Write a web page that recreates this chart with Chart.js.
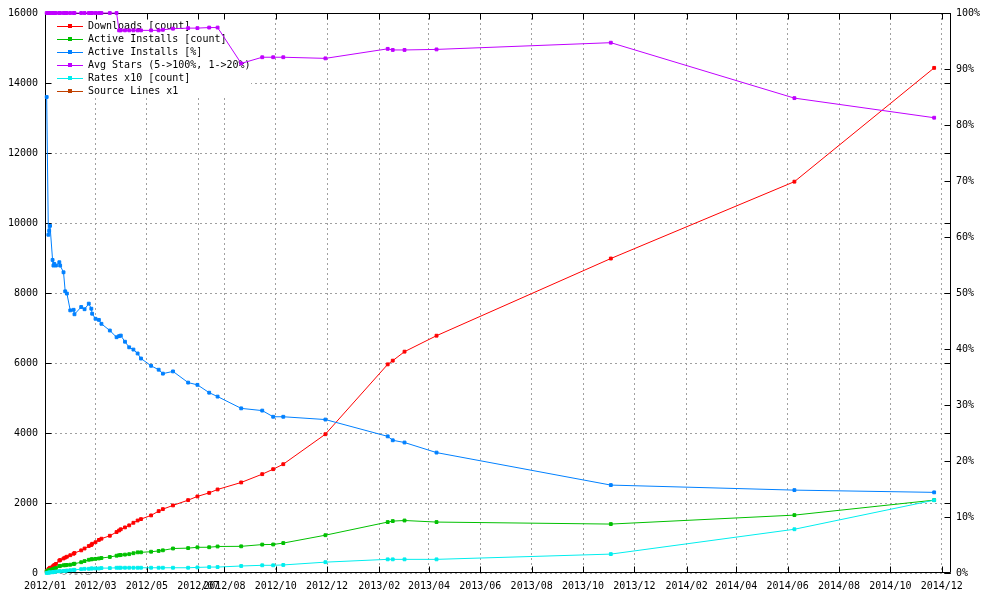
<!DOCTYPE html>
<html>
<head>
<meta charset="utf-8">
<script src="https://cdn.jsdelivr.net/npm/chart.js@4.4.1/dist/chart.umd.min.js"></script>
<style>
html,body{margin:0;padding:0;background:#fff;}
#wrap{width:1000px;height:600px;position:relative;}
</style>
</head>
<body>
<div id="wrap"><canvas id="c"></canvas></div>
<script>
// ---- data ----
const dates = ['2012-01-03','2012-01-05','2012-01-06','2012-01-07','2012-01-10','2012-01-11','2012-01-12','2012-01-14','2012-01-18','2012-01-19',
  '2012-01-23','2012-01-25','2012-01-27','2012-01-31','2012-02-04','2012-02-05','2012-02-13','2012-02-17','2012-02-22','2012-02-25',
  '2012-02-26','2012-03-01','2012-03-05','2012-03-08','2012-03-18','2012-03-26','2012-03-29','2012-03-31','2012-04-05','2012-04-10',
  '2012-04-15','2012-04-20','2012-04-24','2012-05-06','2012-05-15','2012-05-20','2012-06-01','2012-06-19','2012-06-30','2012-07-14',
  '2012-07-24','2012-08-21','2012-09-15','2012-09-28','2012-10-10','2012-11-29','2013-02-11','2013-02-17','2013-03-03','2013-04-10',
  '2013-11-03','2014-06-09','2014-11-22'];
const downloads = [57,106,130,150,185,200,228,260,355,370,
  415,440,465,508,550,570,647,700,770,799,
  835,880,945,980,1064,1170,1215,1250,1303,1361,
  1435,1500,1540,1646,1768,1825,1931,2082,2188,2290,
  2387,2587,2824,2966,3109,3965,5961,6067,6324,6780,
  8985,11181,14432];
const activeInstalls = [48,64,79,93,105,112,126,143,195,203,
  221,221,230,236,259,265,308,340,378,390,
  395,403,415,428,458,494,508,515,525,538,
  565,590,591,608,630,648,700,711,734,736,
  758,762,812,815,855,1080,1455,1483,1500,1455,
  1398,1654,2082];
const activeInstallsPct = [85.0,60.4,61.1,62.0,55.9,54.9,55.2,54.9,55.5,54.9,
  53.7,50.3,49.9,46.9,47.0,46.2,47.5,47.1,48.1,47.2,
  46.3,45.4,45.2,44.5,43.3,42.1,42.3,42.4,41.3,40.3,
  39.9,39.2,38.3,37.0,36.3,35.6,36.0,34.0,33.6,32.2,
  31.5,29.4,29.0,27.9,27.9,27.4,24.4,23.7,23.3,21.5,
  15.7,14.8,14.4];
const avgStarsPct = [100,100,100,100,100,100,100,100,100,100,
  100,100,100,100,100,100,100,100,100,100,
  100,100,100,100,100,100,96.9,96.9,96.9,96.9,
  96.9,96.9,96.9,96.9,96.9,97.0,97.2,97.3,97.3,97.4,
  97.4,91.0,92.1,92.1,92.1,91.9,93.6,93.4,93.4,93.5,
  94.7,84.8,81.3];
const ratesX10 = [0,10,10,20,20,30,30,40,50,50,
  60,60,70,80,90,90,110,120,120,130,
  130,130,130,140,140,150,150,150,150,150,
  150,150,150,150,150,150,150,150,160,170,
  170,200,220,220,230,310,390,390,390,390,
  540,1250,2080];
const sourceLines = [];

const seriesNames = ['Downloads [count]','Active Installs [count]','Active Installs [%]','Avg Stars (5->100%, 1->20%)','Rates x10 [count]','Source Lines x1'];

const xTickDates = ['2012-01-01','2012-03-01','2012-05-01','2012-07-01','2012-08-01','2012-10-01','2012-12-01',
  '2013-02-01','2013-04-01','2013-06-01','2013-08-01','2013-10-01','2013-12-01',
  '2014-02-01','2014-04-01','2014-06-01','2014-08-01','2014-10-01','2014-12-01'];
const xTickLabels = ['2012/01','2012/03','2012/05','2012/07','2012/08','2012/10','2012/12',
  '2013/02','2013/04','2013/06','2013/08','2013/10','2013/12',
  '2014/02','2014/04','2014/06','2014/08','2014/10','2014/12'];
const xRange = ['2012-01-01','2014-12-12'];
const leftRange = [0,16000], leftStep = 2000;
const rightRange = [0,100], rightStep = 10;
const versionLabel = {date:'2012-01-20', text:'0.0.1'};

// ---- style ----
const colors = ['#ff0000','#00c000','#0080ff','#c000ff','#00eeee','#c04000'];
const FONT = '"DejaVu Sans Mono", "Liberation Mono", monospace';

const ORIGIN = Date.UTC(2012,0,1);
function dayOf(s){ const p = s.split('-').map(Number); return (Date.UTC(p[0],p[1]-1,p[2]) - ORIGIN)/86400000; }
const xs = dates.map(dayOf);
const xTickDays = xTickDates.map(dayOf);

const seriesValues = [downloads, activeInstalls, activeInstallsPct, avgStarsPct, ratesX10, sourceLines];
const seriesAxis = ['y','y','y2','y2','y','y'];

const datasets = seriesValues.map((vals,i)=>({
  label: seriesNames[i],
  data: vals.map((v,k)=>({x: xs[k], y: v})),
  yAxisID: seriesAxis[i],
  borderColor: colors[i],
  backgroundColor: colors[i],
  pointBackgroundColor: colors[i],
  pointBorderColor: colors[i],
  borderWidth: 1,
  pointRadius: 2,
  pointBorderWidth: 1,
  pointStyle: 'rect',
  tension: 0,
  clip: false,
  order: 10 - i
}));

const decor = {
  id: 'decor',
  beforeDatasetsDraw(chart){
    const {ctx, chartArea: a, scales} = chart;
    // version label (bottom part only visible, as in reference)
    ctx.save();
    ctx.beginPath(); ctx.rect(0, a.bottom+0.5, chart.width, 4); ctx.clip();
    ctx.font = '10px ' + FONT; ctx.fillStyle = '#a0a0a0';
    ctx.textAlign = 'left'; ctx.textBaseline = 'middle';
    ctx.fillText(versionLabel.text, scales.x.getPixelForValue(dayOf(versionLabel.date)), a.bottom - 1);
    ctx.restore();

    // legend (opaque key box)
    ctx.save();
    ctx.fillStyle = '#fff';
    ctx.fillRect(a.left + 1, a.top + 1, 205, 82);
    ctx.font = '10px ' + FONT;
    ctx.textAlign = 'left'; ctx.textBaseline = 'middle';
    chart.data.datasets.forEach((ds,i)=>{
      const y = Math.round(a.top + 13 + 13*i) + 0.5;
      ctx.strokeStyle = ds.borderColor; ctx.lineWidth = 1;
      ctx.beginPath(); ctx.moveTo(a.left + 12, y); ctx.lineTo(a.left + 38, y); ctx.stroke();
      ctx.fillStyle = ds.borderColor;
      ctx.fillRect(a.left + 23, y - 2.5, 4, 4);
      ctx.fillStyle = '#000';
      ctx.fillText(ds.label, a.left + 43, y);
    });
    ctx.restore();

    // frame + inward tics
    ctx.save();
    ctx.strokeStyle = '#000'; ctx.lineWidth = 1;
    const L = Math.round(a.left)+0.5, R = Math.round(a.right)-0.5, T = Math.round(a.top)+0.5, B = Math.round(a.bottom)-0.5;
    ctx.beginPath();
    ctx.rect(L, T, R-L, B-T);
    const tl = 6;
    scales.y.ticks.forEach(t=>{
      const p = Math.round(scales.y.getPixelForValue(t.value))+0.5;
      ctx.moveTo(L, p); ctx.lineTo(L+tl, p);
      ctx.moveTo(R, p); ctx.lineTo(R-tl, p);
    });
    scales.y2.ticks.forEach(t=>{
      const p = Math.round(scales.y2.getPixelForValue(t.value))+0.5;
      ctx.moveTo(R, p); ctx.lineTo(R-tl, p);
    });
    scales.x.ticks.forEach(t=>{
      const p = Math.round(scales.x.getPixelForValue(t.value))+0.5;
      ctx.moveTo(p, B); ctx.lineTo(p, B-tl);
      ctx.moveTo(p, T); ctx.lineTo(p, T+tl);
    });
    ctx.stroke();
    ctx.restore();
  }
};

const tickFont = {family: FONT, size: 10};
const gridDash = [2,3];

new Chart(document.getElementById('c'), {
  type: 'line',
  data: {datasets},
  plugins: [decor],
  options: {
    responsive: true,
    maintainAspectRatio: false,
    animation: false,
    events: [],
    layout: {padding: {top: 12, left: 0, right: 0, bottom: 0}},
    plugins: {legend: {display: false}, tooltip: {enabled: false}},
    scales: {
      x: {
        type: 'linear', position: 'bottom',
        min: dayOf(xRange[0]), max: dayOf(xRange[1]),
        afterBuildTicks: s => { s.ticks = xTickDays.map(v => ({value: v})); },
        afterFit: s => { s.height = 27; },
        ticks: {autoSkip: false, maxRotation: 0, minRotation: 0, padding: 7, color: '#000', font: tickFont,
          callback: (v, i) => xTickLabels[i]},
        grid: {color: '#a0a0a0', lineWidth: 1, drawTicks: false},
        border: {display: false, dash: gridDash}
      },
      y: {
        position: 'left', min: leftRange[0], max: leftRange[1],
        afterFit: s => { s.width = 45; },
        ticks: {stepSize: leftStep, padding: 7, color: '#000', font: tickFont, callback: v => String(v)},
        grid: {color: '#a0a0a0', lineWidth: 1, drawTicks: false},
        border: {display: false, dash: gridDash}
      },
      y2: {
        position: 'right', min: rightRange[0], max: rightRange[1],
        afterFit: s => { s.width = 49; },
        ticks: {stepSize: rightStep, padding: 5, color: '#000', font: tickFont, callback: v => v + '%'},
        grid: {drawOnChartArea: false, drawTicks: false},
        border: {display: false}
      }
    }
  }
});
</script>
</body>
</html>
